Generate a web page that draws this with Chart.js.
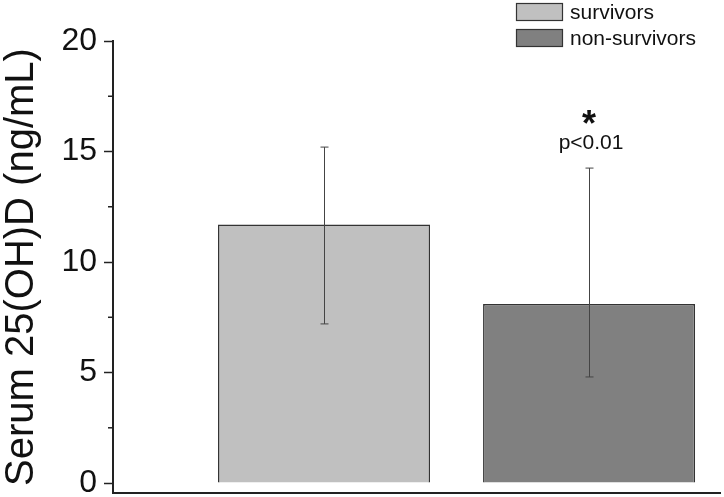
<!DOCTYPE html>
<html>
<head>
<meta charset="utf-8">
<script src="https://cdn.jsdelivr.net/npm/chart.js@4.4.0/dist/chart.umd.min.js"></script>
<style>
  html, body { margin: 0; padding: 0; background: #fff; }
  #wrap { width: 724px; height: 497px; }
</style>
</head>
<body>
<div id="wrap"><canvas id="vitdChart"></canvas></div>
<script>
// data
const groups = ['survivors', 'non-survivors'];
const groupPos = [1, 2];
const means = [11.7, 8.1];
const errLow = [7.2, 4.8];
const errHigh = [15.2, 14.25];
const barColors = ['#c0c0c0', '#808080'];
const yMajorTicks = [0, 5, 10, 15, 20];
const yMinorTicks = [2.5, 7.5, 12.5, 17.5];
const sigLabel = ['*', 'p<0.01'];

const FONT = "'Liberation Sans', Arial, sans-serif";

// error bars, minor ticks, p-value note, legend
const extras = {
  id: 'extras',
  afterDatasetsDraw(chart) {
    const c = chart.ctx;
    const xs = chart.scales.x, ys = chart.scales.y;
    c.save();

    // error bars
    c.strokeStyle = '#444';
    c.lineWidth = 1;
    groupPos.forEach((p, i) => {
      const x = Math.round(xs.getPixelForValue(p)) + 0.5;
      const lo = ys.getPixelForValue(errLow[i]);
      const hi = ys.getPixelForValue(errHigh[i]);
      c.beginPath();
      c.moveTo(x, lo); c.lineTo(x, hi);
      c.moveTo(x - 4, lo); c.lineTo(x + 4, lo);
      c.moveTo(x - 4, hi); c.lineTo(x + 4, hi);
      c.stroke();
    });

    // minor y ticks
    c.strokeStyle = '#222';
    c.lineWidth = 1.5;
    yMinorTicks.forEach(v => {
      const y = ys.getPixelForValue(v);
      c.beginPath();
      c.moveTo(ys.right - 5, y); c.lineTo(ys.right, y);
      c.stroke();
    });

    // significance note over the second bar
    const sx = xs.getPixelForValue(groupPos[1]);
    const sy = ys.getPixelForValue(errHigh[1]);
    c.fillStyle = '#111';
    c.textAlign = 'center';
    c.textBaseline = 'middle';
    c.font = 'bold 36px ' + FONT;
    c.fillText(sigLabel[0], sx, sy - 42);
    c.font = '21px ' + FONT;
    c.fillText(sigLabel[1], sx + 2, sy - 25);

    // legend
    c.textAlign = 'left';
    c.font = '21px ' + FONT;
    groups.forEach((g, i) => {
      const by = 3 + i * 26;
      c.fillStyle = barColors[i];
      c.fillRect(516, by, 47, 18);
      c.strokeStyle = '#333';
      c.lineWidth = 1.2;
      c.strokeRect(516.5, by + 0.5, 46, 17);
      c.fillStyle = '#111';
      c.fillText(g, 570, by + 10);
    });

    c.restore();
  }
};

const ctx = document.getElementById('vitdChart').getContext('2d');

const vitdChart = new Chart(ctx, {
  type: 'bar',
  data: {
    datasets: groups.map((g, i) => ({
      label: g,
      data: [{ x: groupPos[i], y: means[i] }],
      backgroundColor: barColors[i],
      borderColor: '#333',
      borderWidth: 1.5,
      categoryPercentage: 0.8,
      barPercentage: 1.0,
      grouped: false
    }))
  },
  options: {
    responsive: true,
    maintainAspectRatio: false,
    animation: false,
    layout: { padding: { top: 41, right: 4, bottom: 4, left: 0 } },
    plugins: {
      legend: { display: false },
      tooltip: { enabled: false }
    },
    scales: {
      x: {
        type: 'linear',
        offset: false,
        min: 0.2038,
        max: 2.494,
        afterBuildTicks: s => { s.ticks = groupPos.map(v => ({ value: v })); },
        afterFit: s => { s.height = 0; s.paddingLeft = 0; s.paddingRight = 0; },
        ticks: { display: false },
        grid: { display: false },
        border: { display: true, color: '#222', width: 2 }
      },
      y: {
        min: -0.45,
        max: 20,
        afterBuildTicks: s => { s.ticks = yMajorTicks.map(v => ({ value: v })); },
        afterFit: s => { s.width = 113; s.paddingTop = 0; s.paddingBottom = 0; },
        ticks: {
          color: '#111',
          padding: 7,
          font: { family: FONT, size: 32 },
          callback: v => v
        },
        grid: {
          drawOnChartArea: false,
          drawTicks: true,
          tickLength: 9,
          tickWidth: 1.5,
          tickColor: '#222'
        },
        border: { display: true, color: '#222', width: 2 },
        title: {
          display: true,
          text: 'Serum 25(OH)D (ng/mL)',
          color: '#111',
          font: { family: FONT, size: 40, lineHeight: 1.0 },
          padding: { top: 2, bottom: 0 }
        }
      }
    }
  },
  plugins: [extras]
});
</script>
</body>
</html>
